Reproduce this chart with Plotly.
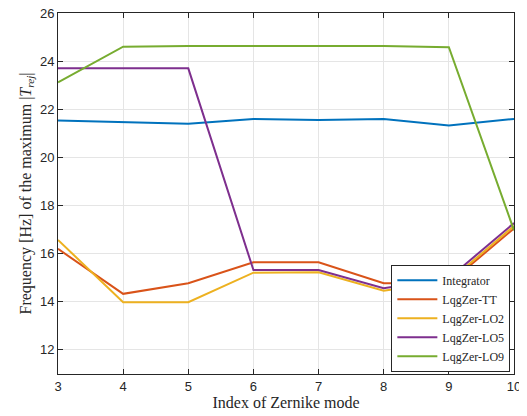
import plotly.graph_objects as go

modes = [3, 4, 5, 6, 7, 8, 9, 10]
integrator = [21.53, 21.47, 21.40, 21.60, 21.55, 21.60, 21.33, 21.60]
lqg_tt = [16.20, 14.33, 14.77, 15.64, 15.64, 14.77, 14.77, 17.05]
lqg_lo2 = [16.57, 13.98, 13.98, 15.21, 15.23, 14.46, 14.85, 17.15]
lqg_lo5 = [23.70, 23.70, 23.70, 15.32, 15.32, 14.56, 14.98, 17.27]
lqg_lo9 = [23.12, 24.60, 24.63, 24.63, 24.63, 24.63, 24.58, 16.97]

series = [
    ("Integrator", integrator, "#0072BD"),
    ("LqgZer-TT", lqg_tt, "#D95319"),
    ("LqgZer-LO2", lqg_lo2, "#EDB120"),
    ("LqgZer-LO5", lqg_lo5, "#7E2F8E"),
    ("LqgZer-LO9", lqg_lo9, "#77AC30"),
]

fig = go.Figure()
for name, vals, col in series:
    fig.add_trace(go.Scatter(x=modes, y=vals, mode="lines", name=name,
                             line=dict(color=col, width=2)))

serif = "Liberation Serif, Times New Roman, serif"
axis_common = dict(
    showline=True, linecolor="#262626", linewidth=1, mirror="ticks",
    ticks="inside", ticklen=5, tickcolor="#262626",
    showgrid=True, gridcolor="#e5e5e5", gridwidth=1,
    zeroline=False, automargin=False, ticklabeloverflow="allow",
    tickfont=dict(family="Liberation Sans, Arial, sans-serif", size=13, color="#262626"),
)

fig.update_layout(
    width=519, height=408,
    margin=dict(l=50, r=13, t=5, b=42),
    plot_bgcolor="white", paper_bgcolor="white",
    xaxis=dict(range=[3, 10], dtick=1,
               title=dict(text="Index of Zernike mode", standoff=2,
                          font=dict(family=serif, size=16, color="#262626")),
               **axis_common),
    yaxis=dict(range=[11, 26], tickvals=[12, 14, 16, 18, 20, 22, 24, 26],
               title=dict(text="Frequency [Hz] of the maximum |<i>T</i><sub><i>rej</i></sub>|", standoff=4,
                          font=dict(family=serif, size=16, color="#262626")),
               **axis_common),
    legend=dict(x=0.992, y=0.006, xanchor="right", yanchor="bottom",
                bgcolor="white", bordercolor="#262626", borderwidth=1,
                font=dict(family=serif, size=12, color="#262626"),
                tracegroupgap=0, itemwidth=40),
    showlegend=True,
)

fig.write_html("out.html")
